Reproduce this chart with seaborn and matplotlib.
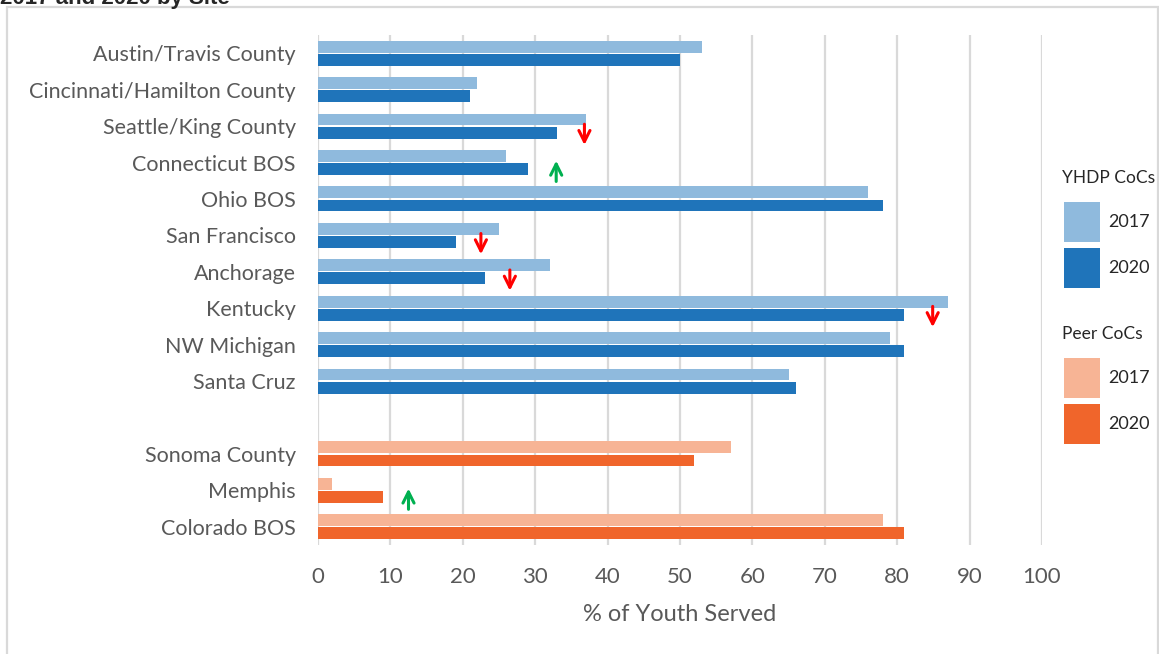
import matplotlib
matplotlib.use("Agg")
import matplotlib.pyplot as plt
from matplotlib.patches import Rectangle
import pandas as pd
import seaborn as sns

# data (% of youth served)
yhdp_sites = ["Austin/Travis County", "Cincinnati/Hamilton County", "Seattle/King County",
              "Connecticut BOS", "Ohio BOS", "San Francisco", "Anchorage", "Kentucky",
              "NW Michigan", "Santa Cruz"]
yhdp_2017 = [53, 22, 37, 26, 76, 25, 32, 87, 79, 65]
yhdp_2020 = [50, 21, 33, 29, 78, 19, 23, 81, 81, 66]

peer_sites = ["Sonoma County", "Memphis", "Colorado BOS"]
peer_2017 = [57, 2, 78]
peer_2020 = [52, 9, 81]

years = ["2017", "2020"]

# change arrows: site, x position (% value), direction
arrow_sites = ["Seattle/King County", "Connecticut BOS", "San Francisco", "Anchorage", "Kentucky", "Memphis"]
arrow_x = [36.8, 32.9, 22.5, 26.5, 84.9, 12.5]
arrow_dir = ["down", "up", "down", "down", "down", "up"]

BLUE_LIGHT, BLUE_DARK = "#8FBADD", "#1F74BA"
ORANGE_LIGHT, ORANGE_DARK = "#F7B495", "#F0652B"
GRID = "#D9D9D9"
TEXT = "#595959"

W, H = 1159, 654


def long_df(sites, v17, v20, group):
    rows = []
    for s, a, b in zip(sites, v17, v20):
        rows.append({"site": s, "year": "2017", "value": a, "group": group})
        rows.append({"site": s, "year": "2020", "value": b, "group": group})
    return pd.DataFrame(rows)


def fig_box(fig, x, y, w, h, color):
    # x, y, w, h in pixels from top-left
    fig.add_artist(Rectangle((x / W, 1 - (y + h) / H), w / W, h / H,
                             transform=fig.transFigure, facecolor=color, edgecolor="none"))


def legend_block(fig, title, colors, top):
    fig.text(1062 / W, 1 - top / H, title, fontsize=12.5, color="#262626", va="center", ha="left")
    for i, (c, lab) in enumerate(zip(colors, years)):
        y0 = top + 24 + i * 46
        fig_box(fig, 1064, y0, 36, 40, c)
        fig.text(1108 / W, 1 - (y0 + 20) / H, lab, fontsize=13, color="#262626", va="center", ha="left")


def main():
    sns.set_theme(style="white")
    plt.rcParams["font.family"] = ["Lato", "DejaVu Sans"]

    order = yhdp_sites + [" "] + peer_sites
    yhdp_df = long_df(yhdp_sites, yhdp_2017, yhdp_2020, "YHDP")
    peer_df = long_df(peer_sites, peer_2017, peer_2020, "Peer")

    fig = plt.figure(figsize=(W / 100, H / 100), dpi=100)
    ax = fig.add_axes([318 / W, 1 - 545 / H, (1042 - 318) / W, (545 - 35) / H])

    for d, pal in [(yhdp_df, [BLUE_LIGHT, BLUE_DARK]), (peer_df, [ORANGE_LIGHT, ORANGE_DARK])]:
        sns.barplot(data=d, y="site", x="value", hue="year", order=order, hue_order=years,
                    palette=pal, saturation=1, orient="h", width=0.72, gap=0.1, linewidth=0,
                    legend=False, ax=ax)

    ax.set_xlim(0, 100)
    ax.set_ylim(len(order) - 0.5, -0.5)
    ax.set_xticks(range(0, 101, 10))
    ax.grid(axis="x", color=GRID, linewidth=1.6)
    ax.set_axisbelow(True)
    sns.despine(ax=ax, left=True, bottom=True)
    ax.tick_params(axis="y", length=0, pad=16, labelsize=15.5, labelcolor=TEXT)
    ax.tick_params(axis="x", length=0, pad=16, labelsize=16, labelcolor=TEXT)
    ax.set_ylabel("")
    ax.set_xlabel("% of Youth Served", fontsize=17, color=TEXT, labelpad=12)

    # up / down arrows
    for s, x, d in zip(arrow_sites, arrow_x, arrow_dir):
        yi = order.index(s)
        if d == "down":
            start, end, col = yi - 0.05, yi + 0.52, "#FF0000"
        else:
            start, end, col = yi + 0.52, yi - 0.05, "#00B050"
        ax.annotate("", xy=(x, end), xytext=(x, start),
                    arrowprops=dict(arrowstyle="->", color=col, lw=2.2, mutation_scale=20,
                                    shrinkA=0, shrinkB=0))

    # legend blocks at the right
    legend_block(fig, "YHDP CoCs", [BLUE_LIGHT, BLUE_DARK], 178)
    legend_block(fig, "Peer CoCs", [ORANGE_LIGHT, ORANGE_DARK], 334)

    # outer frame and clipped title (cut off at the top, as in the source)
    fig.add_artist(Rectangle((7 / W, -0.02), 1151 / W, 1.02 - 7 / H, transform=fig.transFigure,
                             fill=False, edgecolor=GRID, linewidth=1.6))
    fig.text(0.0, 1 - 4 / H, "2017 and 2020 by Site", fontsize=16, fontweight="bold",
             family="Liberation Sans", va="baseline", ha="left")

    fig.savefig("out.png", dpi=100)


if __name__ == "__main__":
    main()
